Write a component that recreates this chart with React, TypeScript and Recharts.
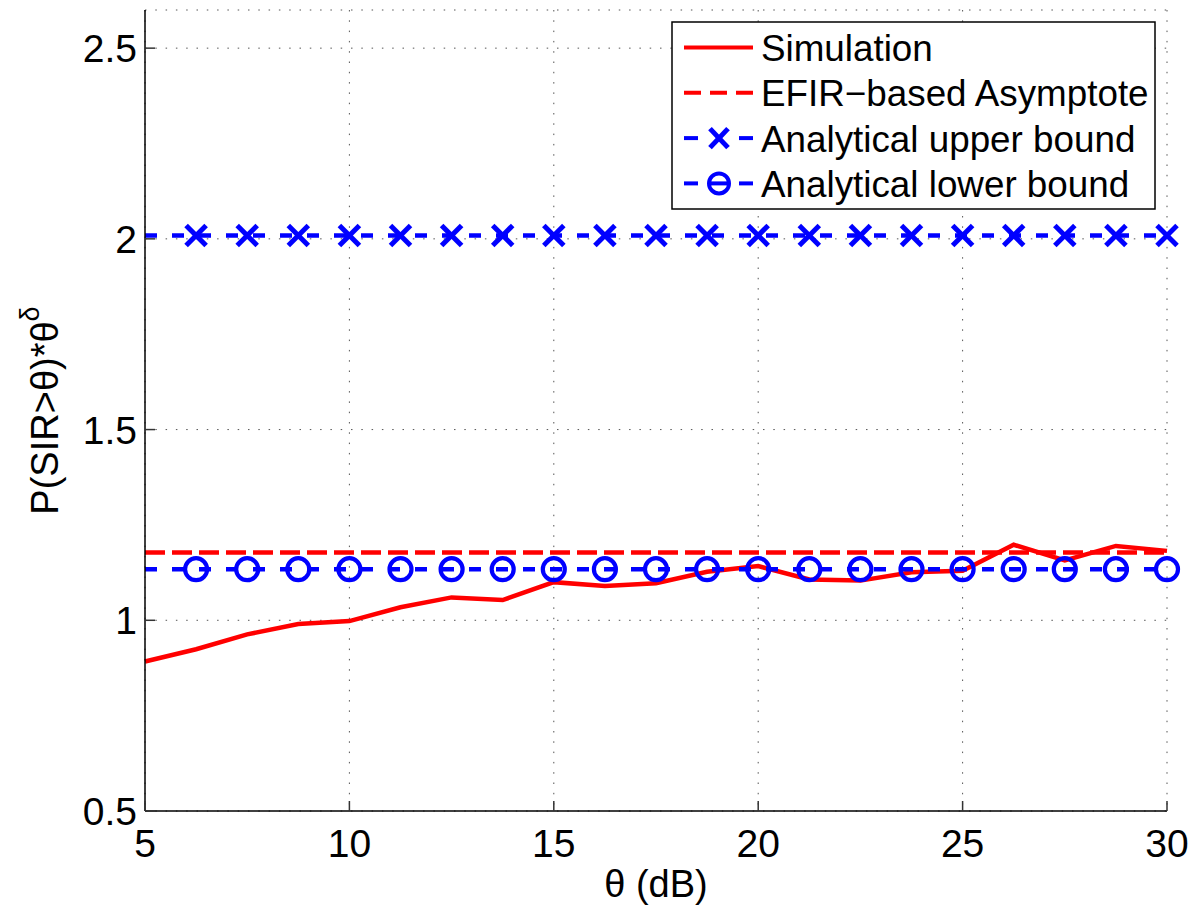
import { LineChart, Line, XAxis, YAxis, CartesianGrid, Legend } from "recharts"

const THETA = [5, 6.25, 7.5, 8.75, 10, 11.25, 12.5, 13.75, 15, 16.25, 17.5, 18.75, 20, 21.25, 22.5, 23.75, 25, 26.25, 27.5, 28.75, 30]
const SIMULATION = [0.892, 0.924, 0.963, 0.99, 0.998, 1.034, 1.06, 1.053, 1.1, 1.09, 1.097, 1.127, 1.142, 1.107, 1.104, 1.126, 1.13, 1.198, 1.157, 1.195, 1.182]
const ASYMPTOTE = 1.178
const UPPER_BOUND = 2.009
const LOWER_BOUND = 1.134

const X_TICKS = [5, 10, 15, 20, 25, 30]
const Y_TICKS = [0.5, 1, 1.5, 2, 2.5]
const LEGEND_LABELS = ["Simulation", "EFIR\u2212based Asymptote", "Analytical upper bound", "Analytical lower bound"]

const RED = "#ff0000"
const BLUE = "#0000ff"
const FONT = "'Liberation Sans', Arial, Helvetica, sans-serif"

const data = THETA.map((t, i) => ({
  theta: t,
  sim: SIMULATION[i],
  asym: ASYMPTOTE,
  upper: UPPER_BOUND,
  lower: LOWER_BOUND,
}))

// markers are drawn on every point except the first (theta = 5)
function CrossDot(props: any) {
  const { cx, cy, index } = props
  if (index === 0 || cx == null) return <g key={`x-${index}`} />
  const s = 10
  return (
    <g key={`x-${index}`} stroke={BLUE} strokeWidth={5} strokeLinecap="butt">
      <line x1={cx - s} y1={cy - s} x2={cx + s} y2={cy + s} />
      <line x1={cx - s} y1={cy + s} x2={cx + s} y2={cy - s} />
    </g>
  )
}

function CircleDot(props: any) {
  const { cx, cy, index } = props
  if (index === 0 || cx == null) return <g key={`o-${index}`} />
  return <circle key={`o-${index}`} cx={cx} cy={cy} r={11} fill="none" stroke={BLUE} strokeWidth={4.2} />
}

function BottomTick({ x, y, payload }: any) {
  return (
    <g>
      <line x1={x} y1={y} x2={x} y2={y - 10} stroke="#333" strokeWidth={1.5} />
      <text x={x} y={y + 46} textAnchor="middle" fontSize={39} fontFamily={FONT} fill="#000">
        {payload.value}
      </text>
    </g>
  )
}

function TopTick({ x, y }: any) {
  return <line x1={x} y1={y} x2={x} y2={y + 10} stroke="#333" strokeWidth={1.5} />
}

function LeftTick({ x, y, payload }: any) {
  return (
    <g>
      <line x1={x} y1={y} x2={x + 10} y2={y} stroke="#333" strokeWidth={1.5} />
      <text x={x - 8} y={y + 14} textAnchor="end" fontSize={39} fontFamily={FONT} fill="#000">
        {payload.value}
      </text>
    </g>
  )
}

function RightTick({ x, y }: any) {
  return <line x1={x} y1={y} x2={x - 10} y2={y} stroke="#333" strokeWidth={1.5} />
}

function XLabel({ viewBox }: any) {
  return (
    <text x={viewBox.x + viewBox.width / 2} y={viewBox.y + 86} textAnchor="middle" fontSize={38} fontFamily={FONT} fill="#000">
      θ (dB)
    </text>
  )
}

function YLabel({ viewBox }: any) {
  const x = 58
  const y = viewBox.y + viewBox.height / 2
  return (
    <text x={x} y={y} transform={`rotate(-90, ${x}, ${y})`} textAnchor="middle" fontSize={38} fontFamily={FONT} fill="#000">
      P(SIR&gt;θ)*θ
      <tspan fontSize={27} dy={-19}>δ</tspan>
    </text>
  )
}

function LegendBox() {
  const rowY = (i: number) => 40 + i * 45.3
  return (
    <svg width={486} height={190} style={{ display: "block" }}>
      <rect x={1} y={1} width={483} height={187} fill="#fff" stroke="#000" strokeWidth={1.5} />
      {/* Simulation */}
      <line x1={13} y1={rowY(0) - 13.5} x2={82} y2={rowY(0) - 13.5} stroke={RED} strokeWidth={4} />
      {/* Asymptote */}
      <line x1={13} y1={rowY(1) - 13.5} x2={82} y2={rowY(1) - 13.5} stroke={RED} strokeWidth={4} strokeDasharray="17 9" />
      {/* Upper bound */}
      <line x1={13} y1={rowY(2) - 13.5} x2={27} y2={rowY(2) - 13.5} stroke={BLUE} strokeWidth={4} />
      <line x1={68} y1={rowY(2) - 13.5} x2={82} y2={rowY(2) - 13.5} stroke={BLUE} strokeWidth={4} />
      <g stroke={BLUE} strokeWidth={5}>
        <line x1={39} y1={rowY(2) - 23} x2={57} y2={rowY(2) - 4} />
        <line x1={39} y1={rowY(2) - 4} x2={57} y2={rowY(2) - 23} />
      </g>
      {/* Lower bound */}
      <line x1={13} y1={rowY(3) - 13.5} x2={27} y2={rowY(3) - 13.5} stroke={BLUE} strokeWidth={4} />
      <line x1={68} y1={rowY(3) - 13.5} x2={82} y2={rowY(3) - 13.5} stroke={BLUE} strokeWidth={4} />
      <line x1={40} y1={rowY(3) - 13.5} x2={56} y2={rowY(3) - 13.5} stroke={BLUE} strokeWidth={4} />
      <circle cx={48} cy={rowY(3) - 13.5} r={10} fill="none" stroke={BLUE} strokeWidth={4} />
      {LEGEND_LABELS.map((label, i) => (
        <text key={label} x={90} y={rowY(i)} fontSize={36.8} fontFamily={FONT} fill="#000">
          {label}
        </text>
      ))}
    </svg>
  )
}

export default function App() {
  return (
    <div style={{ position: "absolute", left: 0, top: 0, background: "#fff" }}>
      <LineChart width={1196} height={908} data={data} margin={{ top: 10, right: 29, left: 0, bottom: 0 }}>
        <CartesianGrid
          xAxisId="bottom"
          yAxisId="left"
          stroke="#555"
          strokeWidth={1}
          strokeDasharray="1.5 8.8"
        />
        <XAxis
          xAxisId="bottom"
          dataKey="theta"
          type="number"
          domain={[5, 30]}
          ticks={X_TICKS}
          height={97}
          tickSize={0}
          tickMargin={0}
          tickLine={false}
          tick={<BottomTick />}
          axisLine={{ stroke: "#000", strokeWidth: 1.5 }}
          label={{ content: XLabel }}
        />
        <XAxis
          xAxisId="top"
          orientation="top"
          dataKey="theta"
          type="number"
          domain={[5, 30]}
          ticks={X_TICKS}
          height={0}
          tickSize={0}
          tickMargin={0}
          tickLine={false}
          tick={<TopTick />}
          axisLine={{ stroke: "#000", strokeWidth: 1.5 }}
        />
        <YAxis
          yAxisId="left"
          type="number"
          domain={[0.5, 2.6]}
          ticks={Y_TICKS}
          width={145}
          tickSize={0}
          tickMargin={0}
          tickLine={false}
          tick={<LeftTick />}
          axisLine={{ stroke: "#000", strokeWidth: 1.5 }}
          label={{ content: YLabel }}
        />
        <YAxis
          yAxisId="right"
          orientation="right"
          type="number"
          domain={[0.5, 2.6]}
          ticks={Y_TICKS}
          width={0}
          tickSize={0}
          tickMargin={0}
          tickLine={false}
          tick={<RightTick />}
          axisLine={{ stroke: "#000", strokeWidth: 1.5 }}
        />
        <Legend
          layout="horizontal"
          verticalAlign="middle"
          align="center"
          content={() => <LegendBox />}
          wrapperStyle={{ position: "absolute", left: 671, top: 21, width: 486, height: 190 }}
        />
        <Line
          xAxisId="bottom"
          yAxisId="left"
          dataKey="sim"
          name="Simulation"
          stroke={RED}
          strokeWidth={4.5}
          dot={false}
          activeDot={false}
          type="linear"
          isAnimationActive={false}
        />
        <Line
          xAxisId="bottom"
          yAxisId="left"
          dataKey="asym"
          name="EFIR-based Asymptote"
          stroke={RED}
          strokeWidth={4.5}
          strokeDasharray="20 7"
          dot={false}
          activeDot={false}
          type="linear"
          isAnimationActive={false}
        />
        <Line
          xAxisId="bottom"
          yAxisId="left"
          dataKey="upper"
          name="Analytical upper bound"
          stroke={BLUE}
          strokeWidth={4.5}
          strokeDasharray="12 15"
          dot={CrossDot}
          activeDot={false}
          type="linear"
          isAnimationActive={false}
        />
        <Line
          xAxisId="bottom"
          yAxisId="left"
          dataKey="lower"
          name="Analytical lower bound"
          stroke={BLUE}
          strokeWidth={4.5}
          strokeDasharray="12 15"
          dot={CircleDot}
          activeDot={false}
          type="linear"
          isAnimationActive={false}
        />
      </LineChart>
    </div>
  )
}
